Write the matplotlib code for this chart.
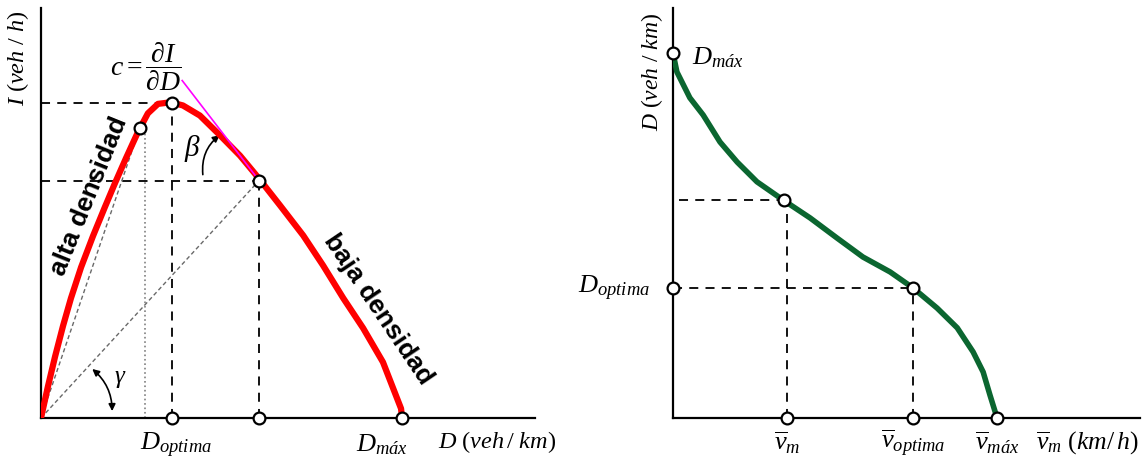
import matplotlib.pyplot as plt

plt.rcParams['font.family'] = 'Liberation Serif'
plt.rcParams['mathtext.fontset'] = 'custom'
plt.rcParams['mathtext.rm'] = 'Liberation Serif'
plt.rcParams['mathtext.it'] = 'Liberation Serif:italic'
plt.rcParams['mathtext.bf'] = 'Liberation Serif:bold'

# Flujo - densidad (unidades relativas: D_max = 100, I_max = 100)
densidad = [0, 1.9, 3.9, 6.1, 8.3, 11.1, 14.4, 17.7, 20.5, 23.5, 26.9, 29.6, 32.4,
            35.2, 36.3, 39.3, 44.0, 49.6, 55.1, 60.1, 66.2, 72.6, 78.1, 83.7,
            89.2, 94.7, 99.7, 100]
flujo = [0, 9.9, 19.5, 29.2, 38.0, 47.8, 57.7, 66.9, 74.5, 82.3, 90.8, 96.6, 99.6,
         100, 100, 99.1, 95.9, 89.6, 83.2, 76.3, 67.4, 57.9, 48.4, 38.0,
         28.5, 17.7, 3.0, 0]

d_alta, i_alta = 27.4, 92.1      # punto en zona de alta densidad
d_opt, i_max = 36.3, 100.0       # maximo flujo
d_baja, i_baja = 60.4, 75.3      # punto en zona de baja densidad
d_max = 100.0
d_punteada = 28.8
tang_d = [39.1, 60.4]
tang_i = [107.0, 75.3]

# Densidad - velocidad media (v_max = 100, D_max = 100)
velocidad = [0, 1.2, 5.2, 9.3, 14.5, 19.8, 25.9, 34.0, 42.3, 50.6, 58.6, 67.0,
             74.1, 81.5, 87.7, 92.6, 95.7, 97.8, 100]
dens_v = [100, 94.8, 87.7, 83.0, 75.6, 70.1, 64.7, 59.7, 54.8, 49.3, 44.1, 40.0,
          35.6, 30.1, 24.7, 18.1, 12.6, 6.3, 0]
v_m, dv_m = 34.3, 59.7
v_opt, d_opt2 = 74.1, 35.6
v_max = 100.0

fig = plt.figure(figsize=(11.46, 4.62), dpi=100)
W, H = 1146, 462


def box(x0, y0, x1, y1):
    return [x0 / W, 1 - y1 / H, (x1 - x0) / W, (y1 - y0) / H]


mk = dict(marker='o', ms=8.5, mfc='white', mec='black', mew=1.6, ls='none', zorder=6, clip_on=False)
dash = dict(color='black', lw=1.3, dashes=(5, 4), zorder=2)

# ---------------- panel izquierdo ----------------
ax = fig.add_axes(box(41, 8, 535, 418))
ax.set_xlim(0, 136.8)
ax.set_ylim(0, 130)
for s in ['top', 'right']:
    ax.spines[s].set_visible(False)
for s in ['left', 'bottom']:
    ax.spines[s].set_linewidth(1.6)
ax.set_xticks([])
ax.set_yticks([])

ax.plot([0, d_opt], [i_max, i_max], **dash)
ax.plot([0, d_baja], [i_baja, i_baja], **dash)
ax.plot([d_opt, d_opt], [0, i_max], **dash)
ax.plot([d_baja, d_baja], [0, i_baja], **dash)
ax.plot([d_punteada, d_punteada], [0, i_alta], color='gray', lw=1.2, ls=':', zorder=2)
ax.plot([0, d_alta], [0, i_alta], color='dimgray', lw=1.0, dashes=(3, 2), zorder=2)
ax.plot([0, d_baja], [0, i_baja], color='dimgray', lw=1.0, dashes=(3, 2), zorder=2)

ax.plot(densidad, flujo, color='#ff0000', lw=4.5, solid_capstyle='round',
        solid_joinstyle='round', zorder=4)
ax.plot(tang_d, tang_i, color='#ff00ff', lw=1.2, zorder=5, clip_on=False)

ax.plot([d_alta, d_opt, d_baja, d_opt, d_baja, d_max],
        [i_alta, i_max, i_baja, 0, 0, 0], **mk)

ax.annotate('', xy=(50.1, 90.2), xytext=(44.9, 76.3),
            arrowprops=dict(arrowstyle='-|>', color='black', lw=1.2,
                            connectionstyle='arc3,rad=-0.3', mutation_scale=10))
ax.annotate('', xy=(13.6, 16.1), xytext=(19.7, 1.3),
            arrowprops=dict(arrowstyle='<|-|>', color='black', lw=1.2,
                            connectionstyle='arc3,rad=0.25', mutation_scale=10))
ax.text(42.0, 85.5, r'$\beta$', fontsize=21, fontweight='bold', ha='center', va='center')
ax.text(22.0, 12.5, r'$\gamma$', fontsize=18, ha='center', va='center')

ax.text(13.2, 70.5, 'alta densidad', family='Liberation Sans', fontweight='bold',
        fontsize=19, rotation=68, ha='center', va='center')
ax.text(93.5, 34.5, 'baja densidad', family='Liberation Sans', fontweight='bold',
        fontsize=19, rotation=-56, ha='center', va='center')

fig.text(18 / W, 1 - 58 / H, r'$I\ (veh\ /\ h)$', fontsize=17.5, rotation=90, ha='center', va='center')
fig.text(146 / W, 1 - 67 / H, r'$c=\dfrac{\partial I}{\partial D}$', fontsize=20, ha='center', va='center')
fig.text(176 / W, 1 - 445 / H, r'$D_{optima}$', fontsize=19, ha='center', va='center')
fig.text(382 / W, 1 - 445 / H, r'$D_{máx}$', fontsize=19, ha='center', va='center')
fig.text(497 / W, 1 - 442 / H, r'$D\ (veh\,/\ km)$', fontsize=17.5, ha='center', va='center')

# ---------------- panel derecho ----------------
ax2 = fig.add_axes(box(673, 8, 1140, 418))
ax2.set_xlim(0, 144.1)
ax2.set_ylim(0, 112.3)
for s in ['top', 'right']:
    ax2.spines[s].set_visible(False)
for s in ['left', 'bottom']:
    ax2.spines[s].set_linewidth(1.6)
ax2.set_xticks([])
ax2.set_yticks([])

ax2.plot([2, v_m], [dv_m, dv_m], **dash)
ax2.plot([0, v_opt], [d_opt2, d_opt2], **dash)
ax2.plot([v_m + 0.9, v_m + 0.9], [0, dv_m], **dash)
ax2.plot([v_opt, v_opt], [0, d_opt2], **dash)

ax2.plot(velocidad, dens_v, color='#0b6630', lw=4.0, solid_capstyle='round',
         solid_joinstyle='round', zorder=4)
ax2.plot([0, v_m, v_opt, 0, v_m + 0.9, v_opt, v_max],
         [100, dv_m, d_opt2, d_opt2, 0, 0, 0], **mk)

fig.text(652 / W, 1 - 72 / H, r'$D\ (veh\ /\ km)$', fontsize=17, rotation=90, ha='center', va='center')
fig.text(718 / W, 1 - 58 / H, r'$D_{máx}$', fontsize=19, ha='center', va='center')
fig.text(614 / W, 1 - 288 / H, r'$D_{optima}$', fontsize=19, ha='center', va='center')
fig.text(787 / W, 1 - 443 / H, r'$\overline{v}_{m}$', fontsize=19, ha='center', va='center')
fig.text(913 / W, 1 - 443 / H, r'$\overline{v}_{optima}$', fontsize=19, ha='center', va='center')
fig.text(997 / W, 1 - 443 / H, r'$\overline{v}_{máx}$', fontsize=19, ha='center', va='center')
fig.text(1087 / W, 1 - 443 / H, r'$\overline{v}_{m}\ (km/\,h)$', fontsize=18.5, ha='center', va='center')

fig.savefig('out.png', dpi=100)
